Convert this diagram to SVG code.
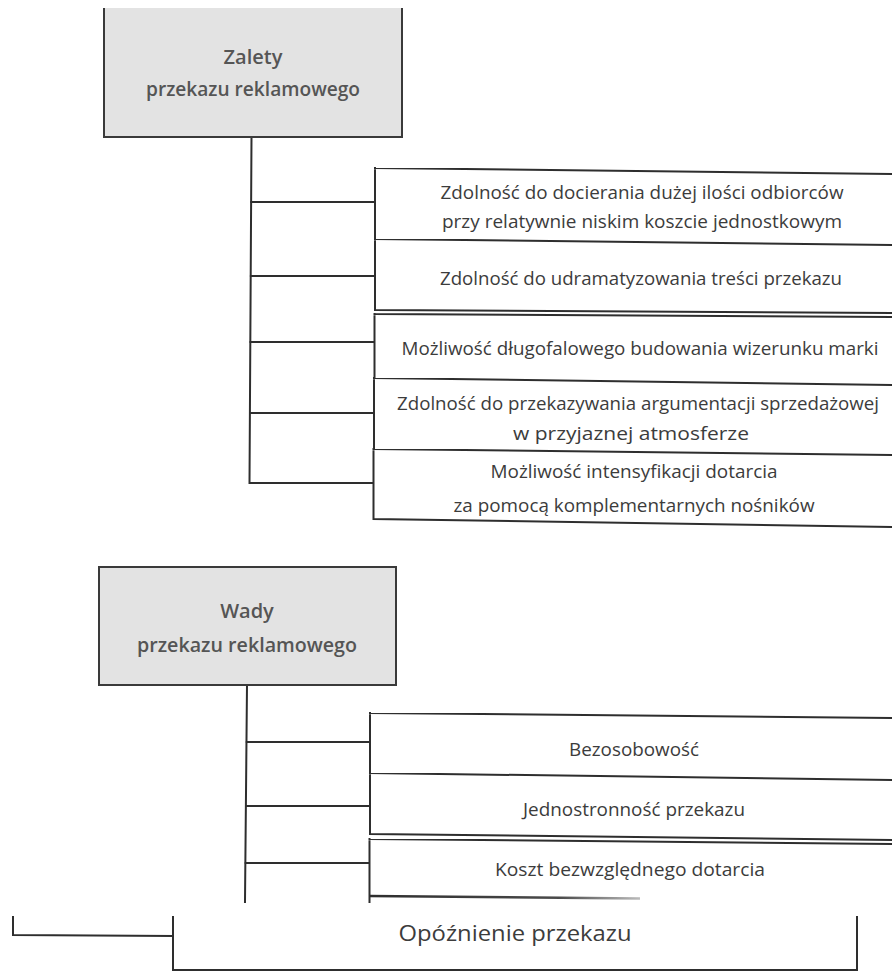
<svg xmlns="http://www.w3.org/2000/svg" width="892" height="972" viewBox="0 0 892 972">
<defs>
<style>
.ln{fill:none;stroke:#2e2e2e;stroke-width:2;stroke-linecap:square;stroke-linejoin:miter}
.hd{fill:#e3e3e3}
.hdb{fill:none;stroke:#3a3a3a;stroke-width:2}
.ht{font-family:"Open Sans","DejaVu Sans",sans-serif;font-weight:600;font-size:20px;fill:#555;text-anchor:middle}
.it{font-family:"Open Sans","DejaVu Sans",sans-serif;font-size:18px;fill:#3c3c3c;text-anchor:middle}
.big{font-size:21px}
</style>
<linearGradient id="fade" x1="370" y1="0" x2="640" y2="0" gradientUnits="userSpaceOnUse">
<stop offset="0" stop-color="#2e2e2e"/>
<stop offset="0.7" stop-color="#4a4a4a"/>
<stop offset="1" stop-color="#bbbbbb"/>
</linearGradient>
</defs>
<rect width="892" height="972" fill="#ffffff"/>

<g id="connectors">
<path class="ln" d="M251.5 137 L249.5 483 L373 483"/>
<path class="ln" d="M251.3 202 H375"/>
<path class="ln" d="M250.9 276 H374.5"/>
<path class="ln" d="M250.5 342 H374"/>
<path class="ln" d="M250 413 H373.5"/>
<path class="ln" d="M247 685 L245 902"/>
<path class="ln" d="M246.8 742 H370"/>
<path class="ln" d="M246.2 806 H369.5"/>
<path class="ln" d="M245.7 863 H369"/>
<path class="ln" d="M13 917 V935 L173 936"/>
</g>

<g id="zalety">
<rect class="hd" x="104" y="8" width="298" height="129"/>
<path class="hdb" d="M104 8 V137 H402 V8"/>
<text class="ht" x="253" y="64">Zalety</text>
<text class="ht" x="253" y="96" textLength="214" lengthAdjust="spacingAndGlyphs">przekazu reklamowego</text>
</g>

<g id="zalety-1">
<path class="ln" d="M375 168 L892 174 M375 168 V239"/>
<text class="it" x="642" y="199" textLength="403" lengthAdjust="spacingAndGlyphs">Zdolność do docierania dużej ilości odbiorców</text>
<text class="it" x="642" y="228" textLength="400" lengthAdjust="spacingAndGlyphs">przy relatywnie niskim koszcie jednostkowym</text>
</g>
<g id="zalety-2">
<path class="ln" d="M375 239 L892 245 M375 239 V310 M375 310 L892 313"/>
<text class="it" x="641" y="285" textLength="402" lengthAdjust="spacingAndGlyphs">Zdolność do udramatyzowania treści przekazu</text>
</g>
<g id="zalety-3">
<path class="ln" d="M374.5 314 L892 317 M374.5 314 V378"/>
<text class="it" x="640" y="355" textLength="477" lengthAdjust="spacingAndGlyphs">Możliwość długofalowego budowania wizerunku marki</text>
</g>
<g id="zalety-4">
<path class="ln" d="M374 378 L892 385 M374 378 V449"/>
<text class="it" x="638" y="410" textLength="482" lengthAdjust="spacingAndGlyphs">Zdolność do przekazywania argumentacji sprzedażowej</text>
<text class="it" x="631" y="440" textLength="236" lengthAdjust="spacingAndGlyphs">w przyjaznej atmosferze</text>
</g>
<g id="zalety-5">
<path class="ln" d="M373.5 449 L892 455 M373.5 449 V519 L892 527"/>
<text class="it" x="634" y="478" textLength="287" lengthAdjust="spacingAndGlyphs">Możliwość intensyfikacji dotarcia</text>
<text class="it" x="634" y="512" textLength="361" lengthAdjust="spacingAndGlyphs">za pomocą komplementarnych nośników</text>
</g>

<g id="wady">
<rect class="hd" x="99" y="567" width="297" height="118"/>
<rect class="hdb" x="99" y="567" width="297" height="118"/>
<text class="ht" x="247" y="618">Wady</text>
<text class="ht" x="247" y="652" textLength="220" lengthAdjust="spacingAndGlyphs">przekazu reklamowego</text>
</g>

<g id="wady-1">
<path class="ln" d="M370 713 L892 718 M370 713 V773"/>
<text class="it" x="634" y="756" textLength="130" lengthAdjust="spacingAndGlyphs">Bezosobowość</text>
</g>
<g id="wady-2">
<path class="ln" d="M370 773 L892 780 M370 773 V834 L892 840"/>
<text class="it" x="634" y="816" textLength="222" lengthAdjust="spacingAndGlyphs">Jednostronność przekazu</text>
</g>
<g id="wady-3">
<path class="ln" d="M369.5 839 L892 844 M369.5 839 V902"/>
<text class="it" x="630" y="876" textLength="270" lengthAdjust="spacingAndGlyphs">Koszt bezwzględnego dotarcia</text>
<path d="M369 896 L640 898.5" fill="none" stroke="url(#fade)" stroke-width="2.5"/>
</g>

<g id="wady-4">
<path class="ln" d="M173 917 V970 H857 V917"/>
<text class="it big" x="515" y="941" textLength="233" lengthAdjust="spacingAndGlyphs">Opóźnienie przekazu</text>
</g>
</svg>
